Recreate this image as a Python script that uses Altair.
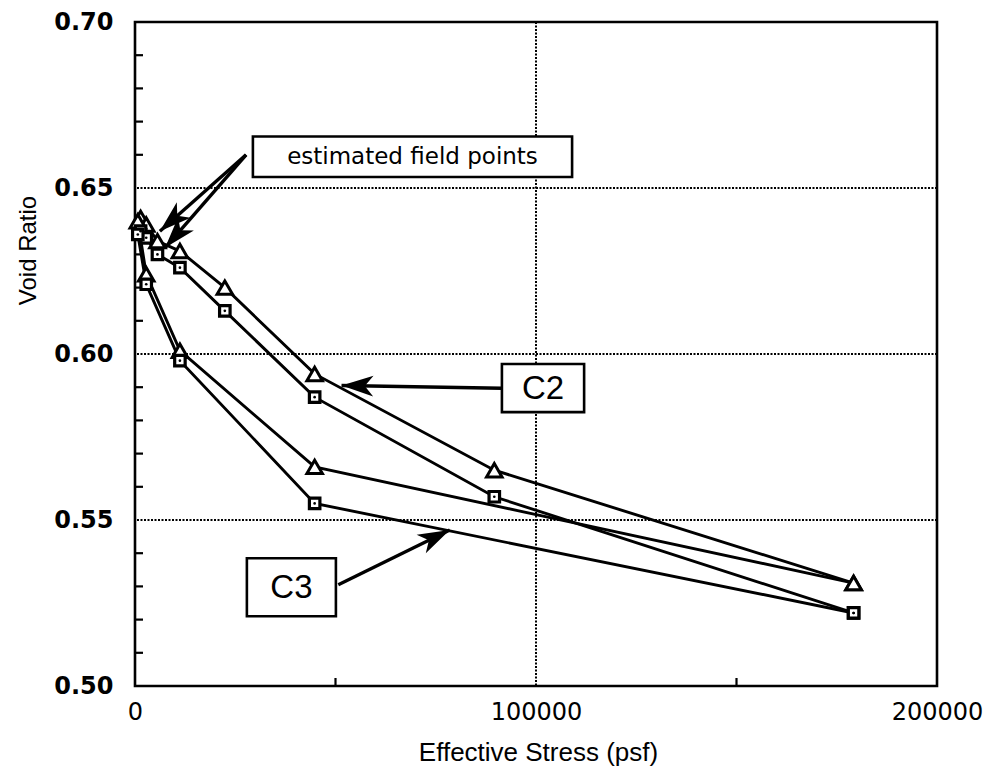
import math
import altair as alt
import pandas as pd

# ---- consolidation data: void ratio vs effective stress (psf) ----
stress_c2 = [1400, 2800, 5600, 11200, 22400, 44800, 89600, 179200]
void_c2_tri = [0.641, 0.639, 0.634, 0.631, 0.620, 0.594, 0.565, 0.531]
void_c2_sq = [0.637, 0.635, 0.630, 0.626, 0.613, 0.587, 0.557, 0.522]

stress_c3 = [700, 2800, 11200, 44800, 179200]
void_c3_tri = [0.640, 0.624, 0.601, 0.566, 0.531]
void_c3_sq = [0.636, 0.621, 0.598, 0.555, 0.522]

# axis ticks and grid
x_label_values = [0, 100000, 200000]
y_label_values = [0.50, 0.55, 0.60, 0.65, 0.70]
x_grid = [100000]
y_grid = [0.55, 0.60, 0.65]
x_minor = [50000, 150000]
y_minor = [0.51, 0.52, 0.53, 0.54, 0.56, 0.57, 0.58, 0.59,
           0.61, 0.62, 0.63, 0.64, 0.66, 0.67, 0.68, 0.69]

# annotation boxes (data units)
box_text = ["estimated field points", "C2", "C3"]
box_x1 = [29400, 91500, 27900]
box_x2 = [109000, 112000, 50100]
box_y1 = [0.6655, 0.5970, 0.5385]
box_y2 = [0.6533, 0.5825, 0.5210]

# arrows: start -> tip (data units)
arrow_x1 = [27700, 27700, 91500, 50700]
arrow_y1 = [0.6600, 0.6600, 0.5897, 0.5305]
arrow_x2 = [6200, 7500, 51500, 78500]
arrow_y2 = [0.6370, 0.6320, 0.5905, 0.5470]

W, H = 802, 664
X_MAX, Y_MIN, Y_MAX = 200000, 0.50, 0.70

rows = []
for name, xs_, ys_, mk in [("C2 tri", stress_c2, void_c2_tri, "tri"),
                           ("C2 sq", stress_c2, void_c2_sq, "sq"),
                           ("C3 tri", stress_c3, void_c3_tri, "tri"),
                           ("C3 sq", stress_c3, void_c3_sq, "sq")]:
    for i, (s, e) in enumerate(zip(xs_, ys_)):
        rows.append({"stress": s, "e": e, "series": name, "marker": mk, "i": i})
df = pd.DataFrame(rows)

xs = alt.Scale(domain=[0, X_MAX], nice=False, zero=False)
ys = alt.Scale(domain=[Y_MIN, Y_MAX], nice=False, zero=False)

X = alt.X("stress:Q", scale=xs, title="Effective Stress (psf)",
          axis=alt.Axis(values=x_label_values, format="d", grid=False, ticks=False,
                        domain=False, labelFont="DejaVu Sans", labelFontSize=24,
                        labelColor="black", labelPadding=14, labelFlush=False,
                        labelOverlap=False, titleFont="Liberation Sans", titleFontSize=26,
                        titleFontWeight="normal", titleColor="black",
                        titleX=W / 2 + 2, titleY=66, titleBaseline="middle"))
Y = alt.Y("e:Q", scale=ys, title="Void Ratio",
          axis=alt.Axis(values=y_label_values, format=".2f", grid=False, ticks=False,
                        domain=False, labelFont="DejaVu Sans", labelFontWeight="bold",
                        labelFontSize=24, labelColor="black", labelPadding=22,
                        labelFlush=False, labelOverlap=False,
                        titleFont="Liberation Sans", titleFontSize=24,
                        titleFontWeight="normal", titleColor="black",
                        titleX=-107, titleY=228, titleBaseline="middle",
                        titleAlign="center"))

base = alt.Chart(df)

grid_x = alt.Chart(pd.DataFrame({"stress": x_grid})).mark_rule(
    color="black", strokeWidth=2, strokeDash=[2, 1.5]).encode(x=alt.X("stress:Q", scale=xs))
grid_y = alt.Chart(pd.DataFrame({"e": y_grid})).mark_rule(
    color="black", strokeWidth=2, strokeDash=[2, 1.5]).encode(y=alt.Y("e:Q", scale=ys))

tick_y = alt.Chart(pd.DataFrame({"e": y_minor})).mark_rule(
    color="black", strokeWidth=2.2).encode(
    y=alt.Y("e:Q", scale=ys), x=alt.value(0), x2=alt.value(8))
tick_x = alt.Chart(pd.DataFrame({"stress": x_minor})).mark_rule(
    color="black", strokeWidth=2.2).encode(
    x=alt.X("stress:Q", scale=xs), y=alt.value(H), y2=alt.value(H - 8))

lines = base.mark_line(color="black", strokeWidth=2.9).encode(
    x=X, y=Y, detail="series:N", order="i:Q")

tri = base.transform_filter(alt.datum.marker == "tri").mark_point(
    shape="triangle-up", size=240, filled=True, fill="white", stroke="black",
    strokeWidth=3, opacity=1).encode(x=alt.X("stress:Q", scale=xs), y=alt.Y("e:Q", scale=ys))
sq = base.transform_filter(alt.datum.marker == "sq").mark_point(
    shape="square", size=110, filled=True, fill="white", stroke="black",
    strokeWidth=3.2, opacity=1).encode(x=alt.X("stress:Q", scale=xs), y=alt.Y("e:Q", scale=ys))
sq_dot = base.transform_filter(alt.datum.marker == "sq").mark_point(
    shape="circle", size=7, filled=True, color="black", opacity=1).encode(
    x=alt.X("stress:Q", scale=xs), y=alt.Y("e:Q", scale=ys))

# arrows
arr = pd.DataFrame({"x1": arrow_x1, "y1": arrow_y1, "x2": arrow_x2, "y2": arrow_y2})
angles = []
for a, b, c, d in zip(arrow_x1, arrow_y1, arrow_x2, arrow_y2):
    dx = (c - a) * W / X_MAX
    dy = -(d - b) * H / (Y_MAX - Y_MIN)
    angles.append(math.degrees(math.atan2(dx, -dy)) % 360)
arr["angle"] = angles

shafts = alt.Chart(arr).mark_rule(color="black", strokeWidth=3.4).encode(
    x=alt.X("x1:Q", scale=xs), y=alt.Y("y1:Q", scale=ys),
    x2="x2:Q", y2="y2:Q")
heads = alt.Chart(arr).mark_point(
    shape="M0,0L0.85,2.6L0,1.9L-0.85,2.6Z", size=600, filled=True,
    color="black", opacity=1).encode(
    x=alt.X("x2:Q", scale=xs), y=alt.Y("y2:Q", scale=ys),
    angle=alt.Angle("angle:Q", scale=None))

boxes_df = pd.DataFrame({"t": box_text, "x1": box_x1, "x2": box_x2,
                         "y1": box_y1, "y2": box_y2})
boxes_df["xm"] = (boxes_df.x1 + boxes_df.x2) / 2
boxes_df["ym"] = (boxes_df.y1 + boxes_df.y2) / 2
boxes = alt.Chart(boxes_df).mark_rect(fill="white", stroke="black", strokeWidth=2.6).encode(
    x=alt.X("x1:Q", scale=xs), x2="x2:Q", y=alt.Y("y1:Q", scale=ys), y2="y2:Q")

field_label = alt.Chart(boxes_df.iloc[[0]]).mark_text(
    font="DejaVu Sans", fontSize=23, color="black", align="center",
    baseline="middle").encode(
    x=alt.X("xm:Q", scale=xs), y=alt.Y("ym:Q", scale=ys), text="t:N")
curve_labels = alt.Chart(boxes_df.iloc[1:]).mark_text(
    font="Liberation Sans", fontSize=33, color="black", align="center",
    baseline="middle", dy=1).encode(
    x=alt.X("xm:Q", scale=xs), y=alt.Y("ym:Q", scale=ys), text="t:N")

chart = alt.layer(
    grid_x, grid_y, tick_y, tick_x, lines, tri, sq, sq_dot,
    shafts, heads, boxes, field_label, curve_labels,
).properties(
    width=W, height=H,
    autosize=alt.AutoSizeParams(type="none"),
    padding={"left": 135, "top": 22, "right": 62, "bottom": 86},
    background="white",
).configure_view(stroke="black", strokeWidth=2.6)

chart.save("out.html", embed_options={"renderer": "svg", "actions": False})
